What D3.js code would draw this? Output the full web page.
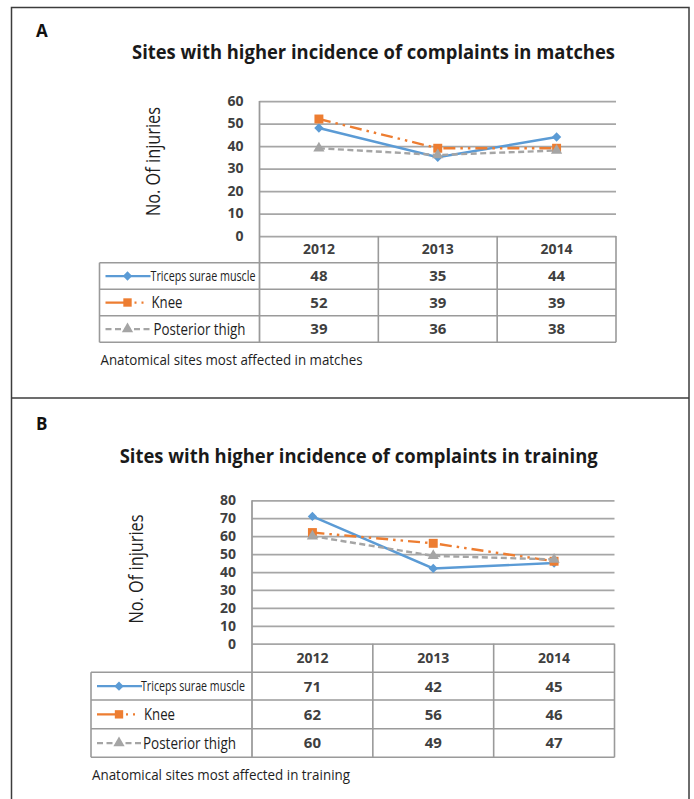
<!DOCTYPE html>
<html>
<head>
<meta charset="utf-8">
<script src="https://cdn.jsdelivr.net/npm/d3@7"></script>
<style>
  body { margin: 0; background: #fff; }
  text { font-family: "Open Sans", "Noto Sans", sans-serif; }
</style>
</head>
<body>
<div id="chart"></div>
<script>
// data
const years = ['2012', '2013', '2014'];
const seriesNames = ['Triceps surae muscle', 'Knee', 'Posterior thigh'];

const matchesTriceps = [48, 35, 44];
const matchesKnee = [52, 39, 39];
const matchesThigh = [39, 36, 38];
const matchesTicks = [0, 10, 20, 30, 40, 50, 60];

const trainingTriceps = [71, 42, 45];
const trainingKnee = [62, 56, 46];
const trainingThigh = [60, 49, 47];
const trainingTicks = [0, 10, 20, 30, 40, 50, 60, 70, 80];

const colors = ['#5b9bd5', '#ed7d31', '#a5a5a5'];
const dashes = [null, '12,5,2.5,5,2.5,5', '6,3.5'];
const symbols = [d3.symbolDiamond2, d3.symbolSquare, d3.symbolTriangle];

const width = 694, height = 799;

const svg = d3.select('#chart').append('svg')
  .attr('width', width)
  .attr('height', height);

// outer frame + separator
svg.append('rect')
  .attr('x', 11.5).attr('y', 7.5)
  .attr('width', 677.5).attr('height', 800)
  .attr('fill', 'none').attr('stroke', '#3c3c3c').attr('stroke-width', 1.5);
svg.append('line')
  .attr('x1', 11.5).attr('x2', 689).attr('y1', 398).attr('y2', 398)
  .attr('stroke', '#3c3c3c').attr('stroke-width', 1.5);

function drawPanel(cfg) {
  const g = svg.append('g');
  const gridColor = '#a6a6a6';
  const tableColor = '#9a9a9a';

  // panel letter
  g.append('text')
    .attr('x', 36).attr('y', cfg.letterY)
    .attr('font-size', 17).attr('font-weight', 700).attr('fill', '#111')
    .text(cfg.letter);

  // title
  g.append('text')
    .attr('x', cfg.titleX).attr('y', cfg.titleY)
    .attr('text-anchor', 'middle')
    .attr('font-size', 20).attr('font-weight', 700).attr('fill', '#1a1a1a')
    .attr('textLength', cfg.titleLen).attr('lengthAdjust', 'spacingAndGlyphs')
    .text(cfg.title);

  const x = d3.scaleBand().domain(years).range([cfg.plotLeft, cfg.plotRight]);
  const y = d3.scaleLinear()
    .domain([0, d3.max(cfg.ticks)])
    .range([cfg.y0, cfg.yTop]);

  // gridlines
  const yAxis = d3.axisLeft(y)
    .tickValues(cfg.ticks)
    .tickSize(-(cfg.plotRight - cfg.plotLeft))
    .tickPadding(16);
  const ga = g.append('g')
    .attr('transform', `translate(${cfg.plotLeft},0)`)
    .call(yAxis);
  ga.select('.domain').remove();
  ga.selectAll('.tick line')
    .attr('stroke', gridColor).attr('stroke-width', 1.75);
  ga.selectAll('.tick text')
    .attr('font-size', 14).attr('font-weight', 700).attr('fill', '#3f3f3f')
    .attr('font-family', '"Open Sans", sans-serif');

  // left axis line runs down through the table
  g.append('line')
    .attr('x1', cfg.plotLeft).attr('x2', cfg.plotLeft)
    .attr('y1', cfg.yTop).attr('y2', cfg.rowEdges[cfg.rowEdges.length - 1])
    .attr('stroke', tableColor).attr('stroke-width', 1.75);

  // y axis title
  g.append('text')
    .attr('transform', `translate(${cfg.labelX},${cfg.labelY}) rotate(-90)`)
    .attr('text-anchor', 'middle')
    .attr('font-size', 20).attr('fill', '#1e1e1e')
    .attr('textLength', 109).attr('lengthAdjust', 'spacingAndGlyphs')
    .text('No. Of injuries');

  // ---- data table ----
  const edges = cfg.rowEdges; // header top, header bottom, row bottoms
  const tbl = g.append('g').attr('stroke', tableColor).attr('stroke-width', 1.6);
  tbl.selectAll('line.h').data(edges.slice(1))
    .join('line').attr('class', 'h')
    .attr('x1', cfg.legendLeft).attr('x2', cfg.plotRight)
    .attr('y1', d => d).attr('y2', d => d);
  const colEdges = years.map(yr => x(yr) + x.bandwidth()).slice(0, -1);
  tbl.selectAll('line.v').data(colEdges)
    .join('line').attr('class', 'v')
    .attr('x1', d => d).attr('x2', d => d)
    .attr('y1', edges[0]).attr('y2', edges[edges.length - 1]);
  tbl.append('line')
    .attr('x1', cfg.plotRight).attr('x2', cfg.plotRight)
    .attr('y1', edges[0]).attr('y2', edges[edges.length - 1]);
  tbl.append('line')
    .attr('x1', cfg.legendLeft).attr('x2', cfg.legendLeft)
    .attr('y1', edges[1]).attr('y2', edges[edges.length - 1]);

  // header years
  g.selectAll('text.year').data(years)
    .join('text').attr('class', 'year')
    .attr('x', d => x(d) + x.bandwidth() / 2)
    .attr('y', (edges[0] + edges[1]) / 2)
    .attr('dy', '0.36em')
    .attr('text-anchor', 'middle')
    .attr('font-size', 14).attr('font-weight', 700).attr('fill', '#3f3f3f')
    .text(d => d);

  const series = cfg.series;
  series.forEach((vals, i) => {
    const rowMid = (edges[i + 1] + edges[i + 2]) / 2;

    // values in table
    g.selectAll(null).data(vals)
      .join('text')
      .attr('x', (d, j) => x(years[j]) + x.bandwidth() / 2)
      .attr('y', rowMid)
      .attr('dy', '0.36em')
      .attr('text-anchor', 'middle')
      .attr('font-size', 15).attr('font-weight', 700).attr('fill', '#3f3f3f')
      .text(d => d);

    // legend key
    const lx = cfg.legendLeft + 6;
    g.append('line')
      .attr('x1', lx).attr('x2', lx + 45)
      .attr('y1', rowMid).attr('y2', rowMid)
      .attr('stroke', colors[i]).attr('stroke-width', 2.25)
      .attr('stroke-dasharray', i === 1 ? '24,5,2,5,2,20' : (dashes[i] || null));
    g.append('path')
      .attr('transform', `translate(${lx + 22},${rowMid})`)
      .attr('d', d3.symbol(symbols[i], i === 1 ? 70 : 55)())
      .attr('fill', colors[i]);
    g.append('text')
      .attr('x', lx + cfg.legendTextX[i])
      .attr('y', rowMid)
      .attr('dy', '0.36em')
      .attr('font-size', i === 0 ? 14 : 16).attr('fill', '#1e1e1e')
      .attr('textLength', cfg.legendTextLen[i]).attr('lengthAdjust', 'spacingAndGlyphs')
      .text(seriesNames[i]);
  });

  // ---- lines ----
  const line = d3.line()
    .x((d, j) => x(years[j]) + x.bandwidth() / 2)
    .y(d => y(d));

  series.forEach((vals, i) => {
    g.append('path')
      .datum(vals)
      .attr('d', line)
      .attr('fill', 'none')
      .attr('stroke', colors[i])
      .attr('stroke-width', 2.4)
      .attr('stroke-dasharray', dashes[i]);
    g.selectAll(null).data(vals)
      .join('path')
      .attr('transform', (d, j) => `translate(${x(years[j]) + x.bandwidth() / 2},${y(d)})`)
      .attr('d', d3.symbol(symbols[i], i === 1 ? 80 : 55)())
      .attr('fill', colors[i]);
  });

  // caption
  g.append('text')
    .attr('x', cfg.legendLeft + 1)
    .attr('y', cfg.captionY)
    .attr('font-size', 15).attr('fill', '#1e1e1e')
    .attr('textLength', cfg.captionLen).attr('lengthAdjust', 'spacingAndGlyphs')
    .text(cfg.caption);
}

drawPanel({
  letter: 'A', letterY: 37,
  title: 'Sites with higher incidence of complaints in matches',
  titleX: 373.5, titleY: 59, titleLen: 483,
  plotLeft: 259.5, plotRight: 616, yTop: 101, y0: 236,
  ticks: matchesTicks,
  labelX: 159.5, labelY: 161.5,
  legendLeft: 99.5,
  rowEdges: [236, 262.7, 289.3, 315.7, 342.3],
  legendTextX: [45, 46, 48],
  legendTextLen: [105, 31, 92],
  series: [matchesTriceps, matchesKnee, matchesThigh],
  caption: 'Anatomical sites most affected in matches',
  captionY: 365, captionLen: 262
});

drawPanel({
  letter: 'B', letterY: 430,
  title: 'Sites with higher incidence of complaints in training',
  titleX: 358.7, titleY: 463, titleLen: 478,
  plotLeft: 252, plotRight: 614.5, yTop: 500.3, y0: 643.7,
  ticks: trainingTicks,
  labelX: 142.7, labelY: 569,
  legendLeft: 91,
  rowEdges: [643.7, 672.3, 700, 728.7, 757.3],
  legendTextX: [44, 47, 46],
  legendTextLen: [104, 31, 93],
  series: [trainingTriceps, trainingKnee, trainingThigh],
  caption: 'Anatomical sites most affected in training',
  captionY: 780, captionLen: 258
});
</script>
</body>
</html>
